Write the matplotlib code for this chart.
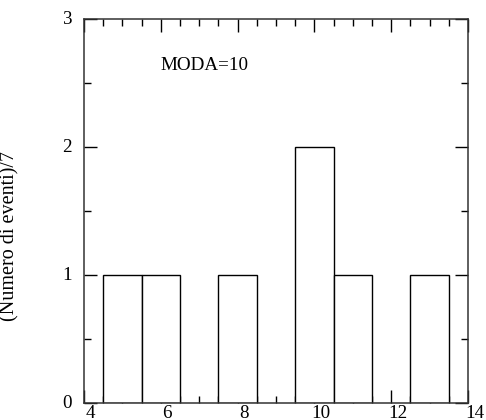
import matplotlib
matplotlib.use('Agg')
import matplotlib.pyplot as plt
from matplotlib.ticker import MultipleLocator
from matplotlib.transforms import ScaledTranslation

plt.rcParams['font.family'] = ['Liberation Serif', 'DejaVu Serif']

# histogram bins (centre of each bin) and how many events fell in it
bin_centers = [5, 6, 8, 10, 11, 13]
counts = [1, 1, 1, 2, 1, 1]
mode_value = 10

x_ticks = [4, 6, 8, 10, 12, 14]
y_ticks = [0, 1, 2, 3]

fig = plt.figure(figsize=(4.86, 4.20), dpi=100)
ax = fig.add_axes([0.1728, 0.0398, 0.7901, 0.9143])

ax.bar(bin_centers, counts, width=1.0, facecolor='white', edgecolor='black',
       linewidth=1.0, zorder=2)

ax.set_xlim(4, 14)
ax.set_ylim(0, 3)
ax.set_xticks(x_ticks)
ax.set_yticks(y_ticks)
ax.xaxis.set_minor_locator(MultipleLocator(0.5))
ax.yaxis.set_minor_locator(MultipleLocator(0.5))

ax.tick_params(which='both', direction='in', top=True, right=True,
               color='black', labelsize=13.7)
ax.tick_params(which='major', length=9.4, width=1.0)
ax.tick_params(which='minor', length=5.0, width=1.0)
ax.tick_params(axis='x', pad=1.2)
ax.tick_params(axis='y', pad=8.6)

for s in ax.spines.values():
    s.set_linewidth(1.1)
    s.set_color('#333333')

# old-style plot: numbers on the x axis sit a little to the right of the ticks
dx = ScaledTranslation(6.5 / 100, 0, fig.dpi_scale_trans)
for lab in ax.get_xticklabels():
    lab.set_transform(lab.get_transform() + dx)
dy = ScaledTranslation(0, 2 / 100, fig.dpi_scale_trans)
for lab in ax.get_yticklabels():
    lab.set_transform(lab.get_transform() + dy)

ax.set_ylabel('(Numero di eventi)/7', fontsize=14.5)
ax.yaxis.set_label_coords(-0.167, 0.437)

ax.text(6, 2.6, f'MODA={mode_value}', fontsize=13.7, ha='left', va='baseline')

fig.savefig('out.png', dpi=100, facecolor='white')
